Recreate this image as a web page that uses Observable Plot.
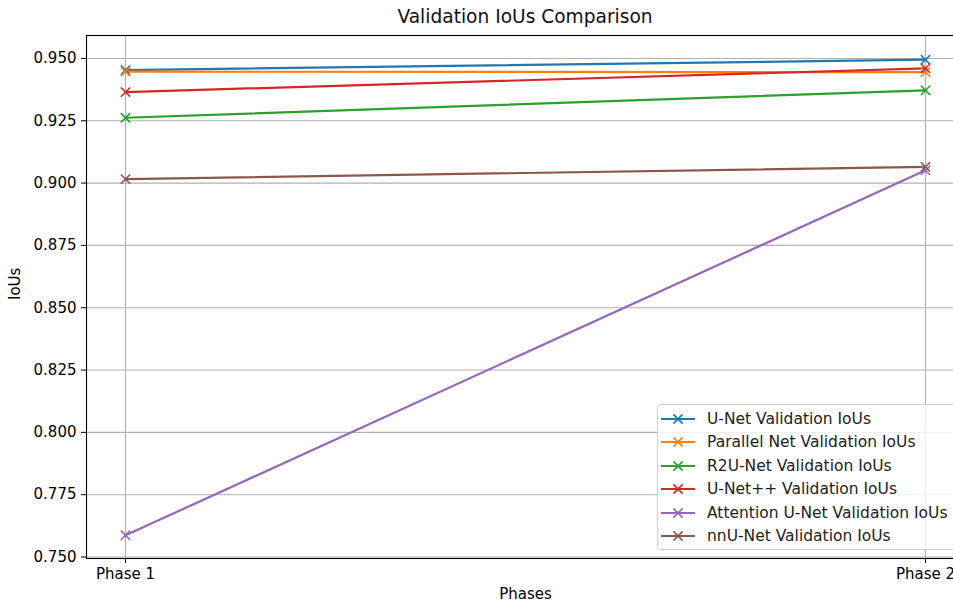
<!DOCTYPE html>
<html>
<head>
<meta charset="utf-8">
<script src="https://cdn.jsdelivr.net/npm/d3@7"></script>
<script src="https://cdn.jsdelivr.net/npm/@observablehq/plot@0.6"></script>
<style>
  html, body { margin: 0; padding: 0; background: #fff; overflow: hidden; }
  #wrap { position: relative; width: 953px; height: 606px; overflow: hidden; font-family: "DejaVu Sans", sans-serif; }
  #title { position: absolute; left: 0; top: 6px; width: 1050px; text-align: center; font-size: 18.6px; color: #111; }
  #chart { position: absolute; left: 0; top: 0; width: 964px; }
  #chart svg { max-width: none !important; }
  #legend { position: absolute; left: 657px; top: 404px; width: 300px; height: 146px; box-sizing: border-box;
            background: rgba(255,255,255,0.8); border: 1px solid #d0d0d0; border-radius: 4px; }
  .row { position: absolute; left: 0; height: 20px; display: flex; align-items: center; font-size: 15.5px; color: #222; white-space: nowrap; }
  .row svg { margin-left: 3px; margin-right: 12px; }
</style>
</head>
<body>
<div id="wrap">
  <div id="chart"></div>
  <div id="title">Validation IoUs Comparison</div>
  <div id="legend"></div>
</div>
<script>
// ---- data ----
const phases = ["Phase 1", "Phase 2"];
const seriesNames = [
  "U-Net Validation IoUs",
  "Parallel Net Validation IoUs",
  "R2U-Net Validation IoUs",
  "U-Net++ Validation IoUs",
  "Attention U-Net Validation IoUs",
  "nnU-Net Validation IoUs"
];
const unetValues = [0.9453, 0.9495];
const parallelValues = [0.9447, 0.9445];
const r2unetValues = [0.9262, 0.9372];
const unetppValues = [0.9365, 0.9460];
const attentionValues = [0.7587, 0.9051];
const nnunetValues = [0.9016, 0.9065];
const seriesColors = ["#1f77b4", "#ff7f0e", "#2ca02c", "#d62728", "#9467bd", "#8c564b"];
const yTicks = [0.750, 0.775, 0.800, 0.825, 0.850, 0.875, 0.900, 0.925, 0.950];

const allValues = [unetValues, parallelValues, r2unetValues, unetppValues, attentionValues, nnunetValues];
const rows = [];
seriesNames.forEach((name, i) => {
  phases.forEach((p, j) => rows.push({series: name, phase: p, value: allValues[i][j]}));
});

const font = "DejaVu Sans, sans-serif";
const chart = Plot.plot({
  width: 964,
  height: 606,
  marginLeft: 86,
  marginRight: 0,
  marginTop: 35,
  marginBottom: 48,
  style: {fontFamily: font, fontSize: "15px", color: "#000", background: "transparent", overflow: "visible", maxWidth: "none"},
  x: {type: "point", domain: phases, padding: 0.04875},
  y: {domain: [0.7494, 0.9592]},
  color: {domain: seriesNames, range: seriesColors},
  marks: [
    Plot.gridX(phases, {stroke: "#b0b0b0", strokeOpacity: 1, strokeWidth: 1.1}),
    Plot.gridY(yTicks, {stroke: "#b0b0b0", strokeOpacity: 1, strokeWidth: 1.1}),
    Plot.line(rows, {x: "phase", y: "value", z: "series", stroke: "series", strokeWidth: 2.2}),
    Plot.dot(rows, {x: "phase", y: "value", stroke: "series", symbol: "times", r: 4.3, strokeWidth: 1.6}),
    Plot.frame({stroke: "#000", strokeWidth: 1.1}),
    Plot.axisY(yTicks, {tickSize: 5, tickPadding: 5, tickFormat: d3.format(".3f"), label: null, fontSize: 15}),
    Plot.axisX(phases, {tickSize: 5, tickPadding: 5, label: null, fontSize: 15}),
    Plot.text(["IoUs"], {frameAnchor: "left", rotate: -90, dx: -71, dy: 3, fontSize: 15}),
    Plot.text(["Phases"], {frameAnchor: "bottom", dy: 40, fontSize: 15})
  ]
});
document.getElementById("chart").appendChild(chart);

// legend
const legend = document.getElementById("legend");
seriesNames.forEach((name, i) => {
  const row = document.createElement("div");
  row.className = "row";
  row.style.top = (3.5 + 23.5 * i) + "px";
  const c = seriesColors[i];
  row.innerHTML = `<svg width="34" height="20"><line x1="0" x2="34" y1="10" y2="10" stroke="${c}" stroke-width="2.2"/>` +
    `<path d="M12.4,5.4L21.6,14.6M12.4,14.6L21.6,5.4" stroke="${c}" stroke-width="1.6"/></svg><span>${name}</span>`;
  legend.appendChild(row);
});
</script>
</body>
</html>
